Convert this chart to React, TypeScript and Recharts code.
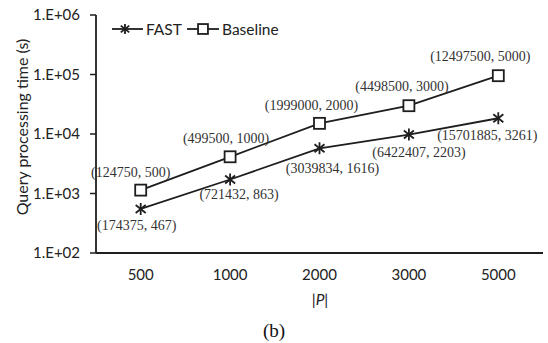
import React from 'react';
import { LineChart, Line, XAxis, YAxis, Customized, LabelList } from 'recharts';

const categories = ['500', '1000', '2000', '3000', '5000'];
const fastTimes = [550, 1720, 5750, 9800, 18400];
const baselineTimes = [1140, 4140, 15100, 29900, 95500];
const fastPairs = [
  [174375, 467],
  [721432, 863],
  [3039834, 1616],
  [6422407, 2203],
  [15701885, 3261],
];
const baselinePairs = [
  [124750, 500],
  [499500, 1000],
  [1999000, 2000],
  [4498500, 3000],
  [12497500, 5000],
];
const yTicks = [1e2, 1e3, 1e4, 1e5, 1e6];
const seriesNames = ['FAST', 'Baseline'];

// label offsets (styling) relative to marker centre
const fastLabelOffsets = [
  [-4, 17],
  [9, 15],
  [13, 20],
  [10, 18],
  [-11, 17],
];
const baseLabelOffsets = [
  [-10, -18],
  [-4, -18],
  [-8, -18],
  [-7, -19],
  [-18, -19],
];

const data = categories.map((c, i) => ({
  x: i + 0.5,
  cat: c,
  fast: fastTimes[i],
  baseline: baselineTimes[i],
}));

const INK = '#1e1e1e';
const SANS = 'Lato, "Open Sans", sans-serif';
const SERIF = '"Liberation Serif", "DejaVu Serif", serif';

const StarShape = ({ cx, cy, s = 1 }: any) => (
  <g stroke={INK} strokeWidth={1.8} fill="none">
    <line x1={cx} y1={cy - 6 * s} x2={cx} y2={cy + 6 * s} />
    <line x1={cx - 5 * s} y1={cy - 4 * s} x2={cx + 5 * s} y2={cy + 4 * s} />
    <line x1={cx - 5 * s} y1={cy + 4 * s} x2={cx + 5 * s} y2={cy - 4 * s} />
  </g>
);

const SquareShape = ({ cx, cy, s = 1 }: any) => (
  <rect
    x={cx - 5.5 * s}
    y={cy - 5.5 * s}
    width={11 * s}
    height={11 * s}
    fill="#fff"
    stroke={INK}
    strokeWidth={1.8}
  />
);

const fmtPair = (p: number[]) => `(${p[0]}, ${p[1]})`;

const makeLabel = (pairs: number[][], offsets: number[][]) => (props: any) => {
  const { x, y, index } = props;
  const [dx, dy] = offsets[index];
  return (
    <text
      x={x + dx}
      y={y + dy}
      textAnchor="middle"
      dominantBaseline="central"
      fontFamily={SERIF}
      fontSize={14}
      fill="#333"
    >
      {fmtPair(pairs[index])}
    </text>
  );
};

const fmtY = (v: number) => `1.E+${String(Math.round(Math.log10(v))).padStart(2, '0')}`;

const Extras = () => (
  <g>
    <g transform="translate(108,19)">
      <line x1={4} y1={10} x2={35} y2={10} stroke={INK} strokeWidth={1.8} />
      <StarShape cx={17} cy={10} s={0.85} />
      <text x={38} y={15.5} fontFamily={SANS} fontSize={15.5} fill="#222">
        {seriesNames[0]}
      </text>
      <line x1={79} y1={10} x2={111} y2={10} stroke={INK} strokeWidth={1.8} />
      <SquareShape cx={95} cy={10} s={0.9} />
      <text x={114} y={15.5} fontFamily={SANS} fontSize={15.5} fill="#222">
        {seriesNames[1]}
      </text>
    </g>
    <text
      transform="translate(21,127) rotate(-90)"
      textAnchor="middle"
      dominantBaseline="central"
      fontFamily={SANS}
      fontSize={16}
      fill="#222"
    >
      Query processing time (s)
    </text>
    <text x={320} y={305} textAnchor="middle" fontFamily={SANS} fontSize={15.5} fill="#222">
      |<tspan fontStyle="italic">P</tspan>|
    </text>
    <text x={274} y={337} textAnchor="middle" fontFamily={SERIF} fontSize={19} fill="#111">
      (b)
    </text>
  </g>
);

export default function App() {
  return (
    <div style={{ position: 'absolute', left: 0, top: 0, background: '#fff' }}>
      <LineChart
        width={548}
        height={343}
        data={data}
        margin={{ top: 15, right: 5, left: 0, bottom: 0 }}
      >
        <XAxis
          xAxisId="grid"
          dataKey="x"
          type="number"
          domain={[0, 5]}
          ticks={[0, 1, 2, 3, 4, 5]}
          tick={false}
          tickSize={5}
          height={1}
          axisLine={{ stroke: INK, strokeWidth: 1.8 }}
          tickLine={{ stroke: INK, strokeWidth: 1.5 }}
        />
        <XAxis
          xAxisId="labels"
          dataKey="x"
          type="number"
          domain={[0, 5]}
          ticks={[0.5, 1.5, 2.5, 3.5, 4.5]}
          axisLine={false}
          tickLine={false}
          tickSize={0}
          tickMargin={0}
          height={89}
          tick={(p: any) => (
            <text
              x={p.x}
              y={p.y}
              dy={26}
              textAnchor="middle"
              fontFamily={SANS}
              fontSize={15}
              fill="#222"
            >
              {categories[Math.floor(p.payload.value)]}
            </text>
          )}
        />
        <YAxis
          type="number"
          scale="log"
          domain={[100, 1000000]}
          ticks={yTicks}
          allowDataOverflow
          width={96}
          tickSize={6}
          tickMargin={10}
          tickFormatter={fmtY}
          axisLine={{ stroke: INK, strokeWidth: 1.8 }}
          tickLine={{ stroke: INK, strokeWidth: 1.5 }}
          tick={{ fontFamily: SANS, fontSize: 15, fill: '#222' }}
        />
        <Line
          xAxisId="grid"
          dataKey="fast"
          name={seriesNames[0]}
          stroke={INK}
          strokeWidth={1.8}
          dot={(p: any) => <StarShape key={`f${p.index}`} cx={p.cx} cy={p.cy} />}
          isAnimationActive={false}
        >
          <LabelList dataKey="fast" content={makeLabel(fastPairs, fastLabelOffsets)} />
        </Line>
        <Line
          xAxisId="grid"
          dataKey="baseline"
          name={seriesNames[1]}
          stroke={INK}
          strokeWidth={1.8}
          dot={(p: any) => <SquareShape key={`b${p.index}`} cx={p.cx} cy={p.cy} />}
          isAnimationActive={false}
        >
          <LabelList dataKey="baseline" content={makeLabel(baselinePairs, baseLabelOffsets)} />
        </Line>
        <Customized component={Extras} />
      </LineChart>
    </div>
  );
}
